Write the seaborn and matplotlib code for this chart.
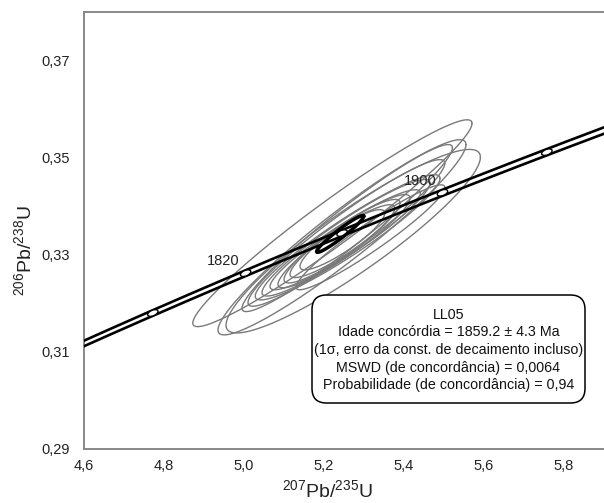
import numpy as np
import pandas as pd
import matplotlib
matplotlib.use("Agg")
import matplotlib.pyplot as plt
import matplotlib.transforms as mtransforms
from matplotlib.patches import Ellipse, FancyBboxPatch
from matplotlib.ticker import MultipleLocator, FuncFormatter, FixedLocator
import seaborn as sns

# ---------------- data ----------------
# analytical error ellipses: 207Pb/235U, sigma, 206Pb/238U, sigma, rho
ell_x = [5.221, 5.245, 5.273, 5.258, 5.256, 5.259, 5.255, 5.253, 5.250, 5.245, 5.246, 5.246, 5.316]
ell_sx = [0.349, 0.310, 0.318, 0.263, 0.246, 0.231, 0.210, 0.188, 0.165, 0.145, 0.131, 0.106, 0.186]
ell_y = [0.3365, 0.3336, 0.3328, 0.3355, 0.3345, 0.3336, 0.3335, 0.3331, 0.3328, 0.3328, 0.3328, 0.3331, 0.3336]
ell_sy = [0.0213, 0.0201, 0.0189, 0.0172, 0.0151, 0.0129, 0.0120, 0.0103, 0.0096, 0.0086, 0.0075, 0.0062, 0.0108]
ell_rho = [0.965, 0.95, 0.915, 0.96, 0.95, 0.94, 0.94, 0.935, 0.925, 0.915, 0.905, 0.885, 0.95]

# concordia age ellipse
conc_x, conc_sx, conc_y, conc_sy, conc_rho = 5.2405, 0.059, 0.3343, 0.0038, 0.96

# concordia curve (decay constants, per year) and age marks (Ma)
LAMBDA238 = 1.55125e-10
LAMBDA235 = 9.8485e-10
LAMBDA235_REL_ERR = 0.0016
curve_age_min, curve_age_max = 1650, 2050
age_marks = [1780, 1820, 1860, 1900, 1940]
age_labels = [1820, 1900]

x_ticks = [4.6, 4.8, 5.0, 5.2, 5.4, 5.6, 5.8]
y_ticks = [0.29, 0.31, 0.33, 0.35, 0.37]

box_lines = [
    "LL05",
    "Idade concórdia = 1859.2 ± 4.3 Ma",
    "(1σ, erro da const. de decaimento incluso)",
    "MSWD (de concordância) = 0,0064",
    "Probabilidade (de concordância) = 0,94",
]

# ---------------- style ----------------
sns.set_theme(style="white")
plt.rcParams["font.family"] = ["Liberation Sans", "DejaVu Sans"]
plt.rcParams["mathtext.fontset"] = "custom"
plt.rcParams["mathtext.rm"] = "Liberation Sans"
plt.rcParams["mathtext.it"] = "Liberation Sans:italic"
plt.rcParams["mathtext.bf"] = "Liberation Sans:bold"

fig = plt.figure(figsize=(6.04, 5.03), dpi=100)
ax = fig.add_axes([84 / 604, 54 / 503, 520 / 604, 437 / 503])
ax.set_xlim(4.6, 5.9)
ax.set_ylim(0.29, 0.38)


def ellipse_pts(cx, sx, cy, sy, rho, n=240):
    th = np.linspace(0, 2 * np.pi, n)
    xs = cx + sx * np.cos(th)
    ys = cy + sy * (rho * np.cos(th) + np.sqrt(1 - rho ** 2) * np.sin(th))
    return xs, ys


# gray ellipses
rows = []
for i, (cx, sx, cy, sy, r) in enumerate(zip(ell_x, ell_sx, ell_y, ell_sy, ell_rho)):
    xs, ys = ellipse_pts(cx, sx, cy, sy, r)
    for k, (a, b) in enumerate(zip(xs, ys)):
        rows.append({"x": a, "y": b, "id": i, "order": k})
df_ell = pd.DataFrame(rows)
sns.lineplot(data=df_ell, x="x", y="y", units="id", estimator=None, sort=False,
             color="#7a7a7a", linewidth=1.0, ax=ax, zorder=2, legend=False)

# concordia band
t = np.linspace(curve_age_min, curve_age_max, 500) * 1e6
crows = []
for j, s in enumerate([-1, 1]):
    lam5 = LAMBDA235 * (1 + s * LAMBDA235_REL_ERR)
    cxs = np.exp(lam5 * t) - 1
    cys = np.exp(LAMBDA238 * t) - 1
    for k, (a, b) in enumerate(zip(cxs, cys)):
        crows.append({"x": a, "y": b, "line": j, "order": k})
df_c = pd.DataFrame(crows)
sns.lineplot(data=df_c, x="x", y="y", units="line", estimator=None, sort=False,
             color="black", linewidth=1.9, ax=ax, zorder=4, legend=False)

# age marks on the concordia
fig.canvas.draw()
for age in age_marks:
    tt = age * 1e6
    mx = np.exp(LAMBDA235 * tt) - 1
    my = np.exp(LAMBDA238 * tt) - 1
    dx = LAMBDA235 * np.exp(LAMBDA235 * tt)
    dy = LAMBDA238 * np.exp(LAMBDA238 * tt)
    p0 = ax.transData.transform((mx, my))
    p1 = ax.transData.transform((mx + dx * 1e6, my + dy * 1e6))
    ang = np.degrees(np.arctan2(p1[1] - p0[1], p1[0] - p0[0]))
    tr = fig.dpi_scale_trans + mtransforms.ScaledTranslation(mx, my, ax.transData)
    e = Ellipse((0, 0), width=0.11, height=0.055, angle=ang, transform=tr,
                facecolor="white", edgecolor="black", linewidth=1.0, zorder=5)
    ax.add_patch(e)
    if age in age_labels:
        ax.annotate(str(age), (mx, my), xytext=(-22, 12), textcoords="offset pixels",
                    ha="center", va="center", fontsize=10.5, color="#222222", zorder=6)

# concordia age ellipse
xs, ys = ellipse_pts(conc_x, conc_sx, conc_y, conc_sy, conc_rho)
ax.plot(xs, ys, color="black", linewidth=2.5, zorder=7)

# text box
bx0, by0 = (312 - 84) / 520, (449 - 403) / 437
bw, bh = (585 - 312) / 520, (403 - 295) / 437
box = FancyBboxPatch((bx0, by0), bw, bh, boxstyle="round,pad=0,rounding_size=0.028",
                     mutation_aspect=520 / 437, transform=ax.transAxes,
                     facecolor="white", edgecolor="black", linewidth=1.1, zorder=8)
ax.add_patch(box)
ax.text(bx0 + bw / 2, by0 + bh / 2 - 0.002, "\n".join(box_lines), transform=ax.transAxes,
        ha="center", va="center", fontsize=10.3, linespacing=1.33, color="#111111", zorder=9)

# axes styling
ax.xaxis.set_major_locator(FixedLocator(x_ticks))
ax.yaxis.set_major_locator(FixedLocator(y_ticks))
ax.xaxis.set_minor_locator(MultipleLocator(0.1))
ax.yaxis.set_minor_locator(MultipleLocator(0.01))
ax.xaxis.set_major_formatter(FuncFormatter(lambda v, p: f"{v:.1f}".replace(".", ",")))
ax.yaxis.set_major_formatter(FuncFormatter(lambda v, p: f"{v:.2f}".replace(".", ",")))
ax.tick_params(axis="both", which="both", direction="in", color="#888888",
               labelcolor="#222222", labelsize=10.5)
ax.tick_params(axis="both", which="major", length=5, width=1.2)
ax.tick_params(axis="both", which="minor", length=3, width=1.2)
ax.tick_params(axis="x", which="major", pad=7)
ax.tick_params(axis="y", which="major", pad=10)
for side in ["left", "bottom", "top"]:
    ax.spines[side].set_color("#888888")
    ax.spines[side].set_linewidth(1.4)
ax.spines["right"].set_visible(False)

ax.set_xlabel(r"$^{207}$Pb/$^{235}$U", fontsize=14, color="#222222")
ax.set_ylabel(r"$^{206}$Pb/$^{238}$U", fontsize=14, color="#222222")
ax.xaxis.set_label_coords((327 - 84) / 520, -(490 - 449) / 437)
ax.yaxis.set_label_coords((24 - 84) / 520, (449 - 251) / 437)
ax.xaxis.label.set_va("center")
ax.yaxis.label.set_va("center")

fig.savefig("out.png", dpi=100)
